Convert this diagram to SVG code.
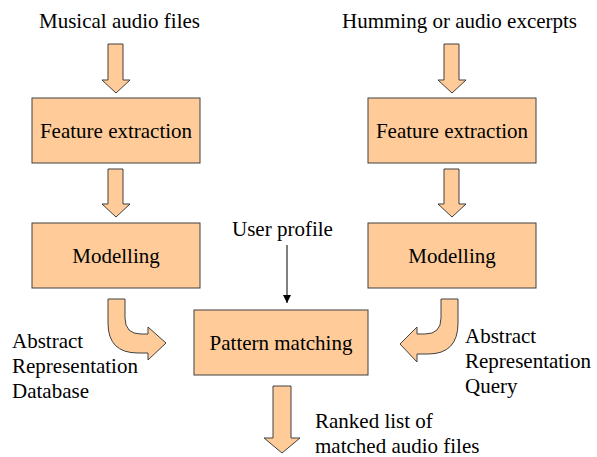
<svg xmlns="http://www.w3.org/2000/svg" width="597" height="457" viewBox="0 0 597 457">
<style>
.box{fill:#FFCC99;stroke:#404040;stroke-width:1}
.arr{fill:#FFCC99;stroke:#404040;stroke-width:1}
.c{text-anchor:middle}
</style>
<defs>
<marker id="ah" viewBox="0 0 10 10" refX="10" refY="5" markerWidth="8" markerHeight="8" markerUnits="userSpaceOnUse" orient="auto"><path d="M0,0 L10,5 L0,10 z" fill="#000"/></marker>
</defs>
<rect width="597" height="457" fill="#fff"/>
<g id="connectors">
<path class="arr" d="M108,44 L123,44 L123,80 L130,80 L116,93 L102,80 L108,80 Z"/>
<path class="arr" d="M108,169 L123,169 L123,204 L130,204 L116,217 L102,204 L108,204 Z"/>
<path class="arr" d="M444,44 L459,44 L459,80 L466,80 L452,93 L438,80 L444,80 Z"/>
<path class="arr" d="M444,169 L459,169 L459,204 L466,204 L452,217 L438,204 L444,204 Z"/>
<path class="arr" d="M108,299 L125,299 L125,318 Q125,334 141,334 L148,334 L148,327 L166,343 L148,360 L148,353 L138,353 Q108,353 108,323 Z"/>
<path class="arr" d="M458,299 L441,299 L441,318 Q441,334 425,334 L417,334 L417,327 L400,344 L417,362 L417,354 L428,354 Q458,354 458,323 Z"/>
<path class="arr" d="M273,386 L291,386 L291,438 L300,438 L282,453 L264,438 L273,438 Z"/>
<line x1="287" y1="245" x2="287" y2="303" stroke="#000" stroke-width="1" marker-end="url(#ah)"/>
</g>
<g font-family="Liberation Serif, Times New Roman, serif" font-size="21" fill="#000">
<g id="n_src1"><text x="39" y="28">Musical audio files</text></g>
<g id="n_src2"><text x="342" y="28">Humming or audio excerpts</text></g>
<g id="n_fe1"><rect class="box" x="32" y="98" width="168" height="65"/><text class="c" x="116" y="138">Feature extraction</text></g>
<g id="n_fe2"><rect class="box" x="368" y="98" width="168" height="65"/><text class="c" x="452" y="138">Feature extraction</text></g>
<g id="n_m1"><rect class="box" x="32" y="223" width="168" height="65"/><text class="c" x="116" y="263">Modelling</text></g>
<g id="n_m2"><rect class="box" x="368" y="223" width="168" height="65"/><text class="c" x="452" y="263">Modelling</text></g>
<g id="n_pm"><rect class="box" x="194" y="310" width="174" height="65"/><text class="c" x="281" y="350">Pattern matching</text></g>
<g id="n_up"><text x="232" y="236">User profile</text></g>
<g id="n_db"><text x="12" y="348">Abstract</text><text x="12" y="373">Representation</text><text x="12" y="398">Database</text></g>
<g id="n_q"><text x="465" y="343">Abstract</text><text x="465" y="368">Representation</text><text x="465" y="393">Query</text></g>
<g id="n_out"><text x="315" y="428">Ranked list of</text><text x="315" y="453">matched audio files</text></g>
</g>
</svg>
